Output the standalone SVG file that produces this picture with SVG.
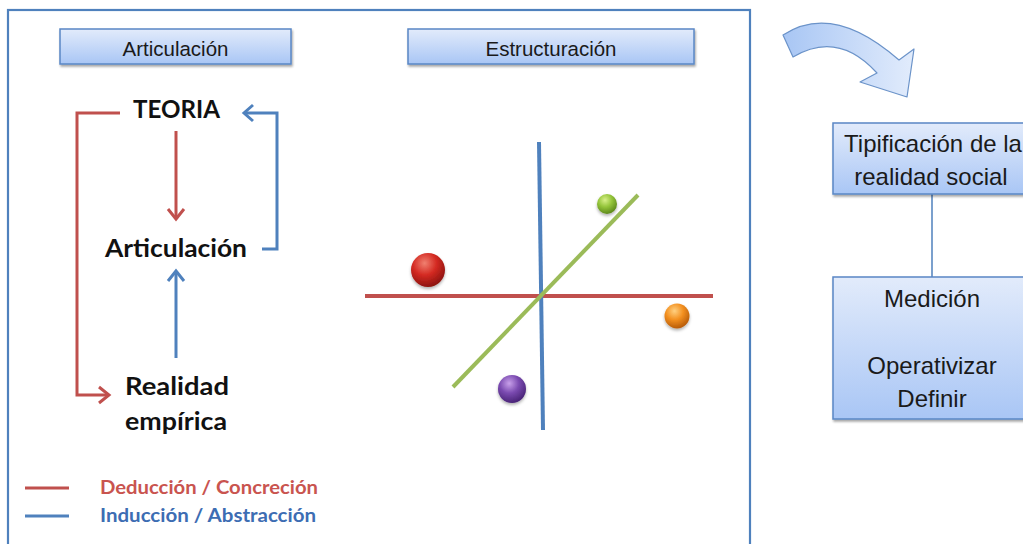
<svg xmlns="http://www.w3.org/2000/svg" width="1023" height="544" viewBox="0 0 1023 544">
<style>
.hdr{fill:url(#boxg);stroke:#5a87c5;stroke-width:1.5;filter:url(#sh)}
.ht{font-family:"Liberation Sans",Arial,sans-serif;font-size:20.5px;fill:#1a1a1a;text-anchor:middle}
.bt{font-family:"Liberation Sans",Arial,sans-serif;font-size:24px;fill:#1a1a1a;text-anchor:middle}
.big{font-family:Lato,"Open Sans",sans-serif;font-weight:bold;font-size:25px;fill:#111}
.leg{font-family:Lato,"Open Sans",sans-serif;font-weight:bold;font-size:19px}
.red{fill:none;stroke:#c0504d;stroke-width:3}
.blue{fill:none;stroke:#4f81bd;stroke-width:3}
.ball{filter:url(#bsh)}
</style>
<defs>
<linearGradient id="boxg" x1="0" y1="0" x2="0" y2="1">
<stop offset="0" stop-color="#e2ebfb"/>
<stop offset="1" stop-color="#a9c6f5"/>
</linearGradient>
<linearGradient id="arrg" x1="0" y1="0" x2="1" y2="0">
<stop offset="0" stop-color="#a8c6f4"/>
<stop offset="1" stop-color="#e2ecfc"/>
</linearGradient>
<radialGradient id="gr" cx="0.4" cy="0.3" r="0.7">
<stop offset="0" stop-color="#f08070"/>
<stop offset="0.5" stop-color="#d42a22"/>
<stop offset="1" stop-color="#8e1410"/>
</radialGradient>
<radialGradient id="gg" cx="0.4" cy="0.3" r="0.7">
<stop offset="0" stop-color="#d8f08a"/>
<stop offset="0.5" stop-color="#94c43a"/>
<stop offset="1" stop-color="#5e8a1c"/>
</radialGradient>
<radialGradient id="go" cx="0.4" cy="0.3" r="0.7">
<stop offset="0" stop-color="#ffd080"/>
<stop offset="0.5" stop-color="#f39020"/>
<stop offset="1" stop-color="#b85c08"/>
</radialGradient>
<radialGradient id="gp" cx="0.4" cy="0.3" r="0.7">
<stop offset="0" stop-color="#c8a0ea"/>
<stop offset="0.5" stop-color="#7a4ab0"/>
<stop offset="1" stop-color="#4a2478"/>
</radialGradient>
<filter id="sh" x="-10%" y="-20%" width="120%" height="150%">
<feDropShadow dx="1" dy="2" stdDeviation="1.2" flood-color="#000" flood-opacity="0.35"/>
</filter>
<filter id="bsh" x="-30%" y="-30%" width="160%" height="170%">
<feDropShadow dx="0" dy="2" stdDeviation="1.5" flood-color="#000" flood-opacity="0.3"/>
</filter>
</defs>
<rect width="1023" height="544" fill="#fff"/>
<rect x="8" y="10" width="742" height="545" fill="none" stroke="#4f81bd" stroke-width="2.2"/>

<g id="hdr-articulacion">
<rect class="hdr" x="60" y="29" width="231" height="35"/>
<text class="ht" x="175.5" y="56">Articulación</text>
</g>
<g id="hdr-estructuracion">
<rect class="hdr" x="408" y="29" width="286" height="35"/>
<text class="ht" x="551" y="56">Estructuración</text>
</g>

<g id="teoria"><text class="big" x="133" y="118" textLength="87" lengthAdjust="spacingAndGlyphs">TEORIA</text></g>
<g id="articulacion"><text class="big" x="105" y="257" textLength="142" lengthAdjust="spacingAndGlyphs">Articulación</text></g>
<g id="realidad"><text class="big" x="125" y="395" textLength="104" lengthAdjust="spacingAndGlyphs">Realidad</text><text class="big" x="125" y="430" textLength="102" lengthAdjust="spacingAndGlyphs">empírica</text></g>

<g id="connectors">
<path class="red" d="M120,113 H77 V395 H108"/>
<path class="red" d="M99,387 L109,395 L99,403"/>
<path class="red" d="M176,131 V219"/>
<path class="red" d="M168,209 L176,219 L184,209"/>
<path class="blue" d="M262,249 H277 V113 H245"/>
<path class="blue" d="M253,105 L244,113 L253,121"/>
<path class="blue" d="M176,358 V271"/>
<path class="blue" d="M168,281 L176,271 L184,281"/>
<line x1="932" y1="194" x2="932" y2="277" stroke="#4f81bd" stroke-width="1.5"/>
</g>

<g id="legend">
<line x1="25" y1="488" x2="69" y2="488" stroke="#c0504d" stroke-width="3"/>
<line x1="25" y1="516" x2="69" y2="516" stroke="#4f81bd" stroke-width="3"/>
<text class="leg" x="100" y="494" fill="#c9544f" textLength="218" lengthAdjust="spacingAndGlyphs">Deducción / Concreción</text>
<text class="leg" x="100" y="522" fill="#3d6db3" textLength="216" lengthAdjust="spacingAndGlyphs">Inducción / Abstracción</text>
</g>

<g id="estructura">
<line x1="365" y1="296" x2="713" y2="296" stroke="#c0504d" stroke-width="4"/>
<line x1="539" y1="142" x2="543" y2="430" stroke="#4f81bd" stroke-width="4"/>
<line x1="638" y1="195" x2="453" y2="387" stroke="#9bbb59" stroke-width="4"/>
<circle class="ball" cx="428" cy="270" r="17" fill="url(#gr)"/>
<circle class="ball" cx="607" cy="204" r="10" fill="url(#gg)"/>
<circle class="ball" cx="677" cy="316" r="12.5" fill="url(#go)"/>
<circle class="ball" cx="512" cy="389" r="14" fill="url(#gp)"/>
</g>

<g id="curved-arrow">
<path d="M783,35 Q833,2 899,60 L914,49 L907,97 L860,82 L877,73 Q838,30 793,57 Z" fill="url(#arrg)" stroke="#6b93c9" stroke-width="1.2" stroke-linejoin="round"/>
</g>

<g id="tipificacion">
<rect class="hdr" x="833" y="123" width="200" height="71"/>
<text class="bt" x="933" y="152">Tipificación de la</text>
<text class="bt" x="931" y="185">realidad social</text>
</g>
<g id="medicion">
<rect class="hdr" x="833" y="277" width="200" height="142"/>
<text class="bt" x="932" y="307">Medición</text>
<text class="bt" x="932" y="374">Operativizar</text>
<text class="bt" x="932" y="407">Definir</text>
</g>
</svg>
